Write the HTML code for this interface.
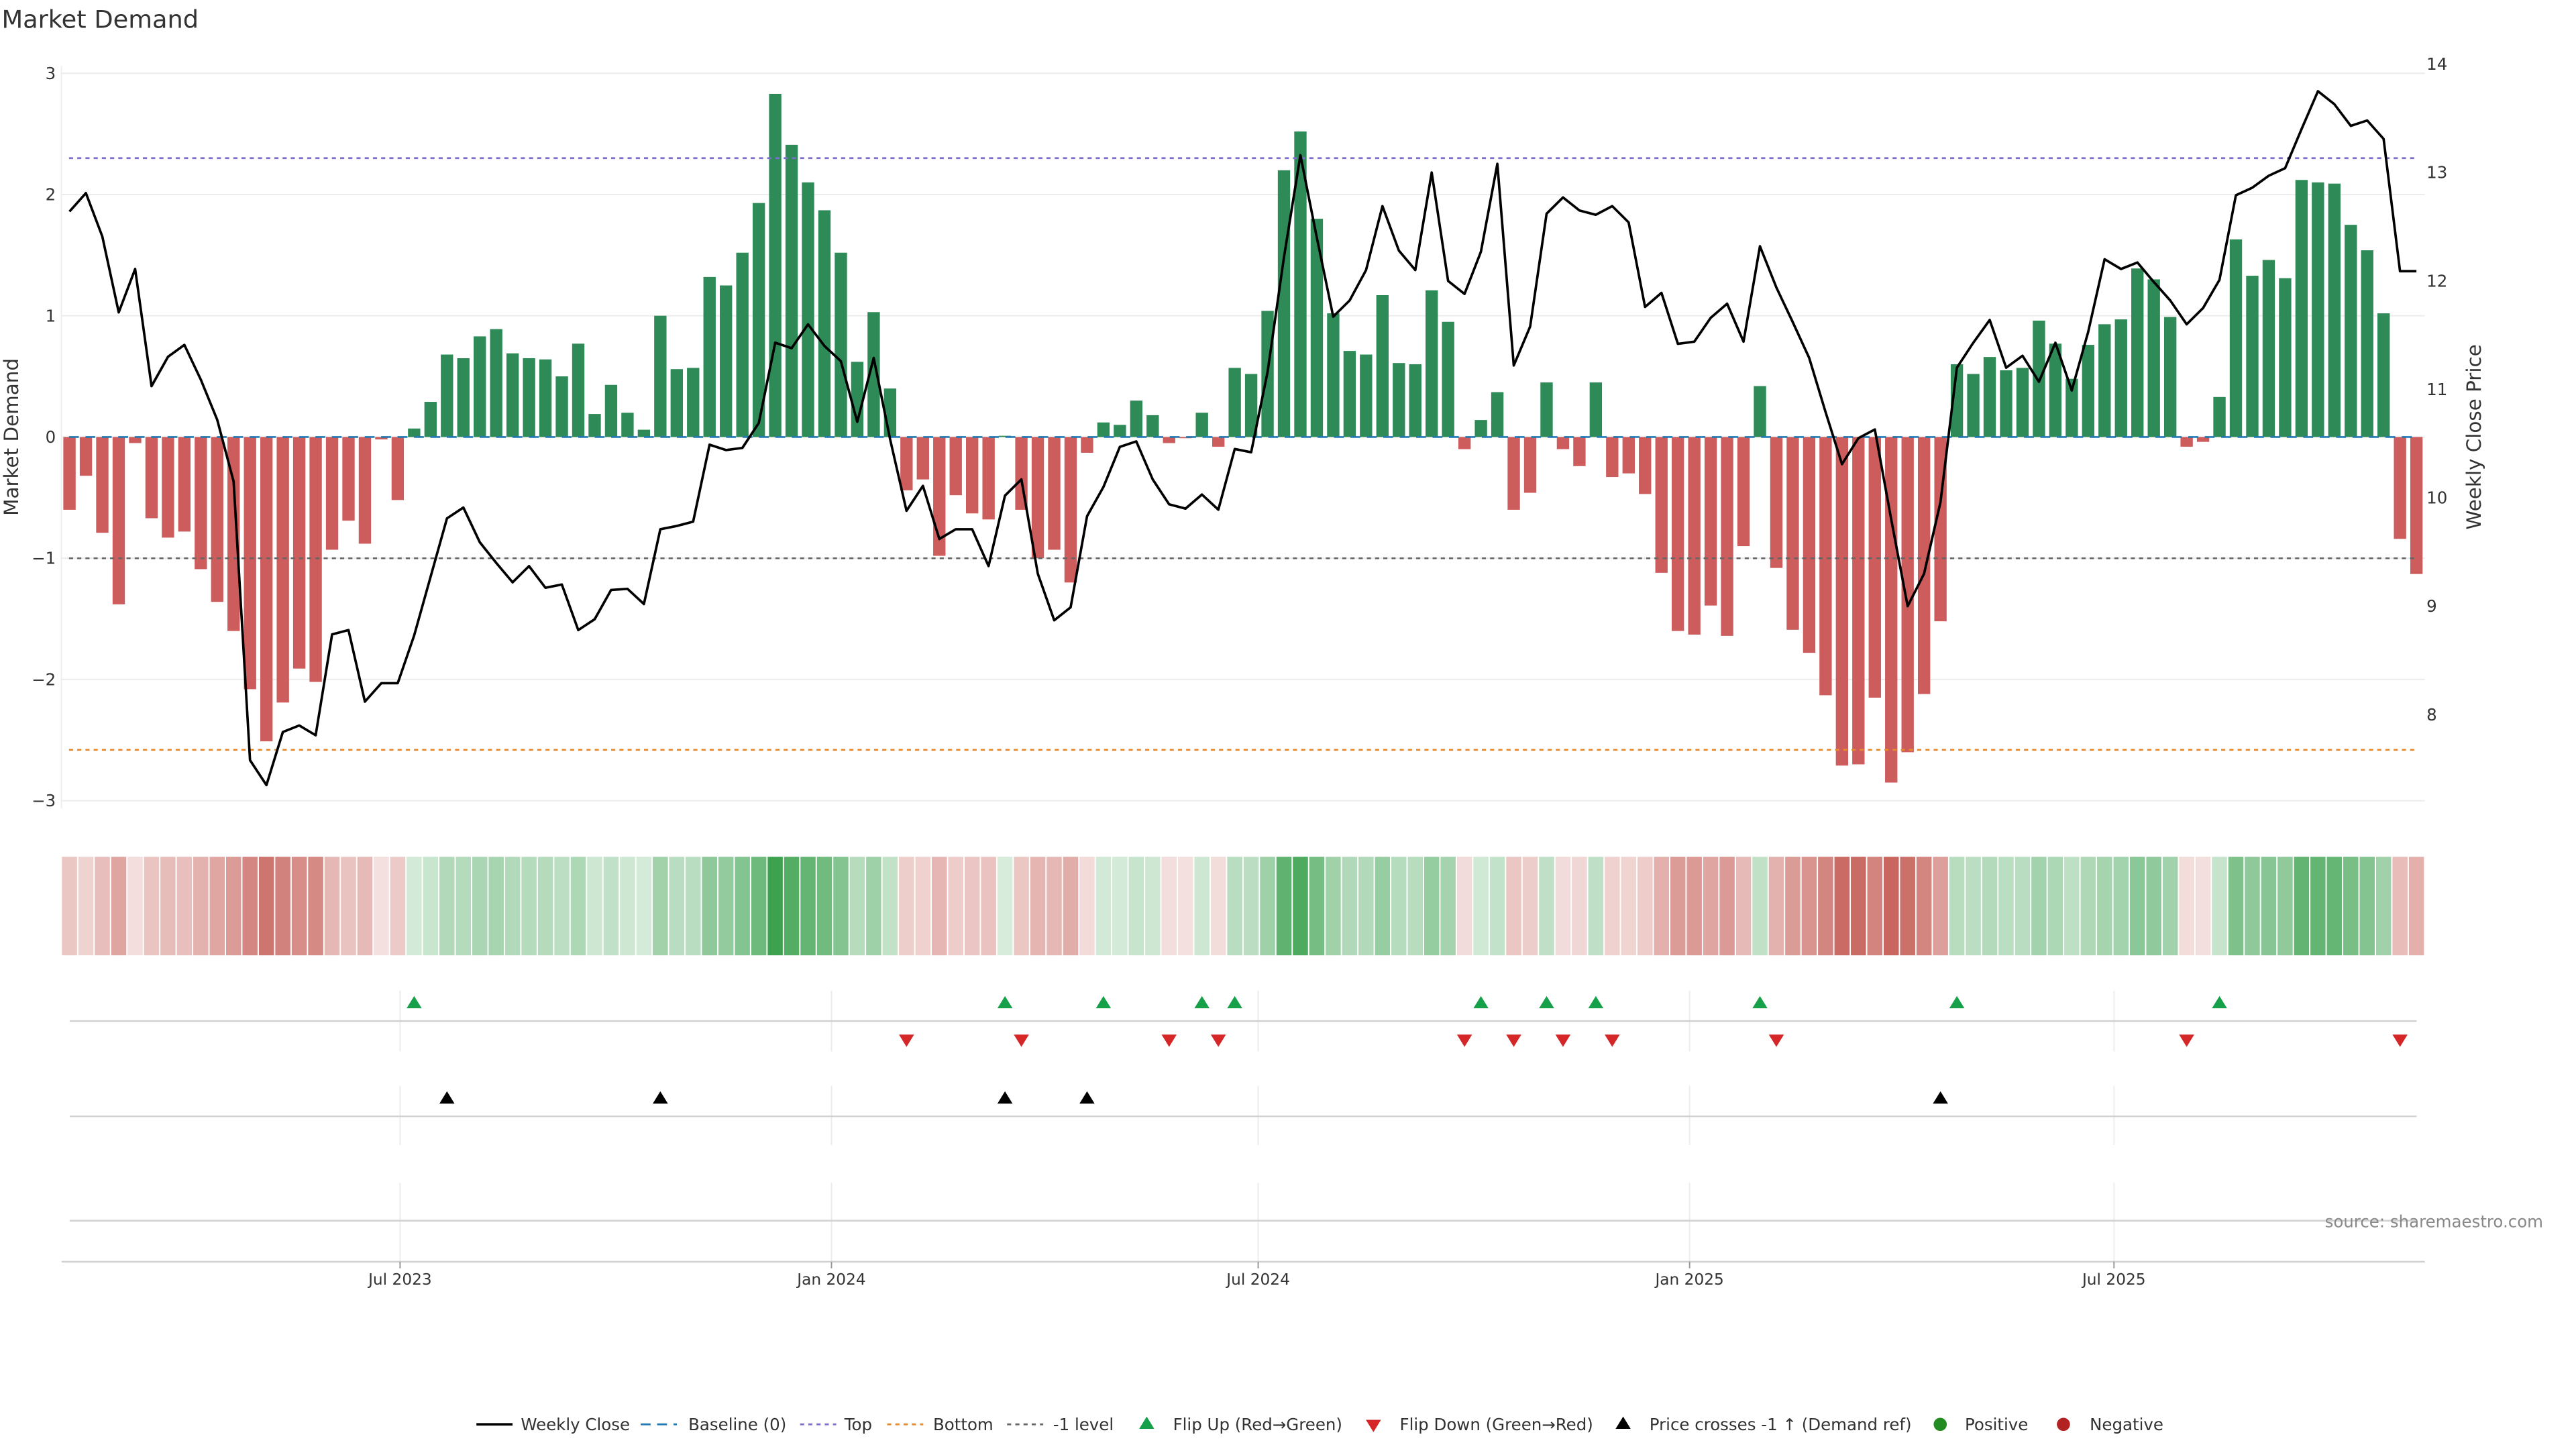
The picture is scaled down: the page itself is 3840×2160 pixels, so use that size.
<!DOCTYPE html>
<html><head><meta charset="utf-8"><style>
html,body{margin:0;padding:0;background:#fff;}
svg{display:block;font-family:"DejaVu Sans","Liberation Sans",sans-serif;}
</style></head><body>
<svg id="chart" width="3840" height="2160" viewBox="0 0 1568 882" preserveAspectRatio="none" xmlns="http://www.w3.org/2000/svg">
<text x="1" y="17" font-size="15" fill="#333">Market Demand</text>
<g id="grid"></g>
<g id="main"></g>
<g id="heat"></g>
<g id="events"></g>
<g id="xaxis"></g>
<text transform="translate(11,266) rotate(-90)" text-anchor="middle" font-size="12" fill="#333">Market Demand</text>
<text transform="translate(1510,266) rotate(-90)" text-anchor="middle" font-size="12" fill="#333">Weekly Close Price</text>
<text x="1548" y="747" text-anchor="end" font-size="10" fill="#888">source: sharemaestro.com</text>
<g id="legend"></g>
</svg>
<script>
const startDate = "2023-02-10";
const demand = [-0.6,-0.32,-0.79,-1.38,-0.05,-0.67,-0.83,-0.78,-1.09,-1.36,
-1.6,-2.08,-2.51,-2.19,-1.91,-2.02,-0.93,-0.69,-0.88,-0.02,
-0.52,0.07,0.29,0.68,0.65,0.83,0.89,0.69,0.65,0.64,
0.5,0.77,0.19,0.43,0.2,0.06,1.0,0.56,0.57,
1.32,1.25,1.52,1.93,2.83,2.41,2.1,1.87,1.52,0.62,
1.03,0.4,-0.44,-0.35,-0.98,-0.48,-0.63,-0.68,0.01,-0.6,
-1.0,-0.93,-1.2,-0.13,0.12,0.1,0.3,0.18,-0.05,-0.01,
0.2,-0.08,0.57,0.52,1.04,2.2,2.52,1.8,
1.02,0.71,0.68,1.17,0.61,0.6,1.21,0.95,-0.1,0.14,
0.37,-0.6,-0.46,0.45,-0.1,-0.24,0.45,-0.33,-0.3,-0.47,
-1.12,-1.6,-1.63,-1.39,-1.64,-0.9,0.42,-1.08,-1.59,-1.78,
-2.13,-2.71,-2.7,-2.15,-2.85,-2.6,-2.12,-1.52,
0.6,0.52,0.66,0.55,0.57,0.96,0.77,0.48,0.76,0.93,
0.97,1.39,1.3,0.99,-0.08,-0.04,0.33,1.63,1.33,1.46,
1.31,2.12,2.1,2.09,1.75,1.54,1.02,-0.84,-1.13];
const closePrice = [12.64,12.81,12.41,11.71,12.11,11.03,11.30,11.41,11.09,10.72,
10.15,7.58,7.35,7.84,7.90,7.81,8.74,8.78,8.12,8.29,
8.29,8.73,9.27,9.81,9.91,9.59,9.40,9.22,9.37,9.17,
9.20,8.78,8.88,9.15,9.16,9.02,9.71,9.74,9.78,
10.49,10.44,10.46,10.69,11.43,11.38,11.60,11.40,11.26,10.70,
11.29,10.54,9.88,10.11,9.62,9.71,9.71,9.37,10.02,10.17,
9.30,8.87,8.99,9.83,10.10,10.47,10.52,10.17,9.94,9.90,
10.03,9.89,10.45,10.42,11.16,12.22,13.16,
12.4,11.67,11.82,12.10,12.69,12.28,12.10,13.0,12.0,11.88,
12.27,13.08,11.22,11.58,12.62,12.77,12.65,12.61,12.69,12.54,
11.76,11.89,11.42,11.44,11.66,11.79,11.44,12.32,11.94,11.62,
11.29,10.79,10.31,10.55,10.63,9.80,9.0,9.30,9.96,11.20,
11.43,11.64,11.20,11.31,11.07,11.43,10.99,11.53,12.20,12.11,
12.17,11.99,11.82,11.60,11.75,12.01,12.79,12.86,12.97,13.04,
13.40,13.75,13.63,13.43,13.48,13.31,12.09,12.09];
const demandTicks = [-3,-2,-1,0,1,2,3];
const priceTicks = [8,9,10,11,12,13,14];
const levelValues = [2.3, 0, -1, -2.58];
const levelNames = ["top-level-line","baseline-zero-line","minus-one-level-line","bottom-level-line"];
const xTickLabels = ["Jul 2023","Jan 2024","Jul 2024","Jan 2025","Jul 2025"];
const xTickDates = ["2023-07-01","2024-01-01","2024-07-01","2025-01-01","2025-07-01"];

const NS="http://www.w3.org/2000/svg";
function mk(tag, parent, attrs){const e=document.createElementNS(NS,tag);for(const k in attrs)e.setAttribute(k,attrs[k]);parent.appendChild(e);return e;}
const DAY=86400000, t0=Date.parse(startDate);
const PXW=9.99, X0=42.3;
function xDate(s){return X0+(Date.parse(s)-t0)/DAY/7*PXW;}
function xi(i){return X0+i*PXW;}
function yD(v){return 266-73.8*v;}
function yP(p){return 39+(14-p)*66;}
function pFromY(y){return 14-(y-39)/66;}

const grid=document.getElementById('grid');
demandTicks.forEach(v=>{
  const l=mk('line',grid,{x1:37,x2:1476,y1:yD(v),y2:yD(v),stroke:'#ececec','stroke-width':0.8});
  
  
  const t=mk('text',grid,{x:34,y:yD(v)+3.5,'text-anchor':'end','font-size':10,fill:'#333'});
  t.textContent=(v<0?'\u2212'+Math.abs(v):String(v));
  
  
});
mk('line',grid,{x1:37.4,x2:37.4,y1:40,y2:492,stroke:'#eeeeee','stroke-width':0.8});
priceTicks.forEach(p=>{
  const t=mk('text',grid,{x:1477,y:yP(p)+3.5,'font-size':10,fill:'#333'});
  t.textContent=String(p);
  
  
});

const main=document.getElementById('main');
demand.forEach((v,i)=>{
  const y0=yD(0), y1=yD(v);
  const r=mk('rect',main,{x:xi(i)-3.75,width:7.5,y:Math.min(y0,y1),height:Math.abs(y1-y0),fill:v>=0?'#2e8b57':'#cd5c5c'});
  
  
});
const levelStyles=[{c:'#7b6fd0',d:'2.5 2.5'},{c:'#1f77b4',d:'6 4'},{c:'#666',d:'2.5 2.5'},{c:'#e8892b',d:'2.5 2.5'}];
levelValues.forEach((v,k)=>{
  const l=mk('line',main,{x1:42,x2:1471,y1:yD(v),y2:yD(v),stroke:levelStyles[k].c,'stroke-width':1.1,'stroke-dasharray':levelStyles[k].d});
  
  
});
const pl=mk('polyline',main,{points:closePrice.map((p,i)=>xi(i).toFixed(2)+','+yP(p).toFixed(2)).join(' '),fill:'none',stroke:'#000','stroke-width':1.5,'stroke-linejoin':'round'});



const heat=document.getElementById('heat');
const maxAbs=Math.max(...demand.map(Math.abs));
demand.forEach((v,i)=>{
  const t=0.2+0.8*Math.abs(v)/maxAbs;
  const base=v>=0?[59,161,79]:[200,102,95];
  const c=base.map(b=>Math.round(255*(1-t)+b*t));
  const r=mk('rect',heat,{x:xi(i)-4.6,width:9.2,y:521.5,height:60,fill:'rgb('+c.join(',')+')'});
  
  
});

const ev=document.getElementById('events');
xTickDates.forEach(d=>{
  const x=xDate(d);
  [[603,640],[661,697],[720,768]].forEach(s=>{mk('line',ev,{x1:x,x2:x,y1:s[0],y2:s[1],stroke:'#ececec','stroke-width':0.8});});
});
[621.5,679.5,743].forEach(y=>{
  const l=mk('line',ev,{x1:42.4,x2:1471,y1:y,y2:y,stroke:'#d0d0d0','stroke-width':1});
  
  
});
function tri(parent,x,y,up,color,name){
  const h=7.5,w=4.6;
  const pts=up?[[x,y-h/2],[x+w,y+h/2],[x-w,y+h/2]]:[[x,y+h/2],[x+w,y-h/2],[x-w,y-h/2]];
  const p=mk('polygon',parent,{points:pts.map(q=>q.join(',')).join(' '),fill:color});
  
  
  return p;
}
const threshold=pFromY(yD(-1));
for(let i=1;i<demand.length;i++){
  if(demand[i-1]<=0&&demand[i]>0) tri(ev,xi(i),610,true,'#16a04a','flip-up-marker');
  if(demand[i-1]>0&&demand[i]<=0) tri(ev,xi(i),633.5,false,'#d62728','flip-down-marker');
  if(closePrice[i-1]<threshold&&closePrice[i]>=threshold) tri(ev,xi(i),668,true,'#000','price-cross-marker');
}

const xa=document.getElementById('xaxis');
mk('line',xa,{x1:37.5,x2:1476,y1:768,y2:768,stroke:'#d0d0d0','stroke-width':1});
xTickLabels.forEach((lab,k)=>{
  const x=xDate(xTickDates[k]);
  mk('line',xa,{x1:x,x2:x,y1:768,y2:772,stroke:'#999','stroke-width':0.8});
  const t=mk('text',xa,{x:x,y:782,'text-anchor':'middle','font-size':9.5,fill:'#333'});
  t.textContent=lab;
  
  
});

const lg=document.getElementById('legend');
const LY=867;
function ltext(x,s){const t=mk('text',lg,{x:x,y:LY+3.6,'font-size':10,fill:'#333'});t.textContent=s;}
mk('line',lg,{x1:290,x2:312,y1:LY,y2:LY,stroke:'#000','stroke-width':1.5});ltext(317,'Weekly Close');
mk('line',lg,{x1:390,x2:412,y1:LY,y2:LY,stroke:'#1f77b4','stroke-width':1.1,'stroke-dasharray':'6 4'});ltext(419,'Baseline (0)');
mk('line',lg,{x1:487,x2:509,y1:LY,y2:LY,stroke:'#7b6fd0','stroke-width':1.1,'stroke-dasharray':'2.5 2.5'});ltext(514,'Top');
mk('line',lg,{x1:540,x2:562,y1:LY,y2:LY,stroke:'#e8892b','stroke-width':1.1,'stroke-dasharray':'2.5 2.5'});ltext(568,'Bottom');
mk('line',lg,{x1:613,x2:635,y1:LY,y2:LY,stroke:'#666','stroke-width':1.1,'stroke-dasharray':'2.5 2.5'});ltext(641,'-1 level');
tri(lg,698,LY-1,true,'#16a04a','legend-flip-up');ltext(714,'Flip Up (Red\u2192Green)');
tri(lg,836,LY+1,false,'#d62728','legend-flip-down');ltext(852,'Flip Down (Green\u2192Red)');
tri(lg,988,LY-1,true,'#000','legend-price-cross');ltext(1004,'Price crosses -1 \u2191 (Demand ref)');
mk('circle',lg,{cx:1181,cy:LY,r:4,fill:'#228b22'});ltext(1196,'Positive');
mk('circle',lg,{cx:1256,cy:LY,r:4,fill:'#b22222'});ltext(1272,'Negative');
</script>
</body></html>
